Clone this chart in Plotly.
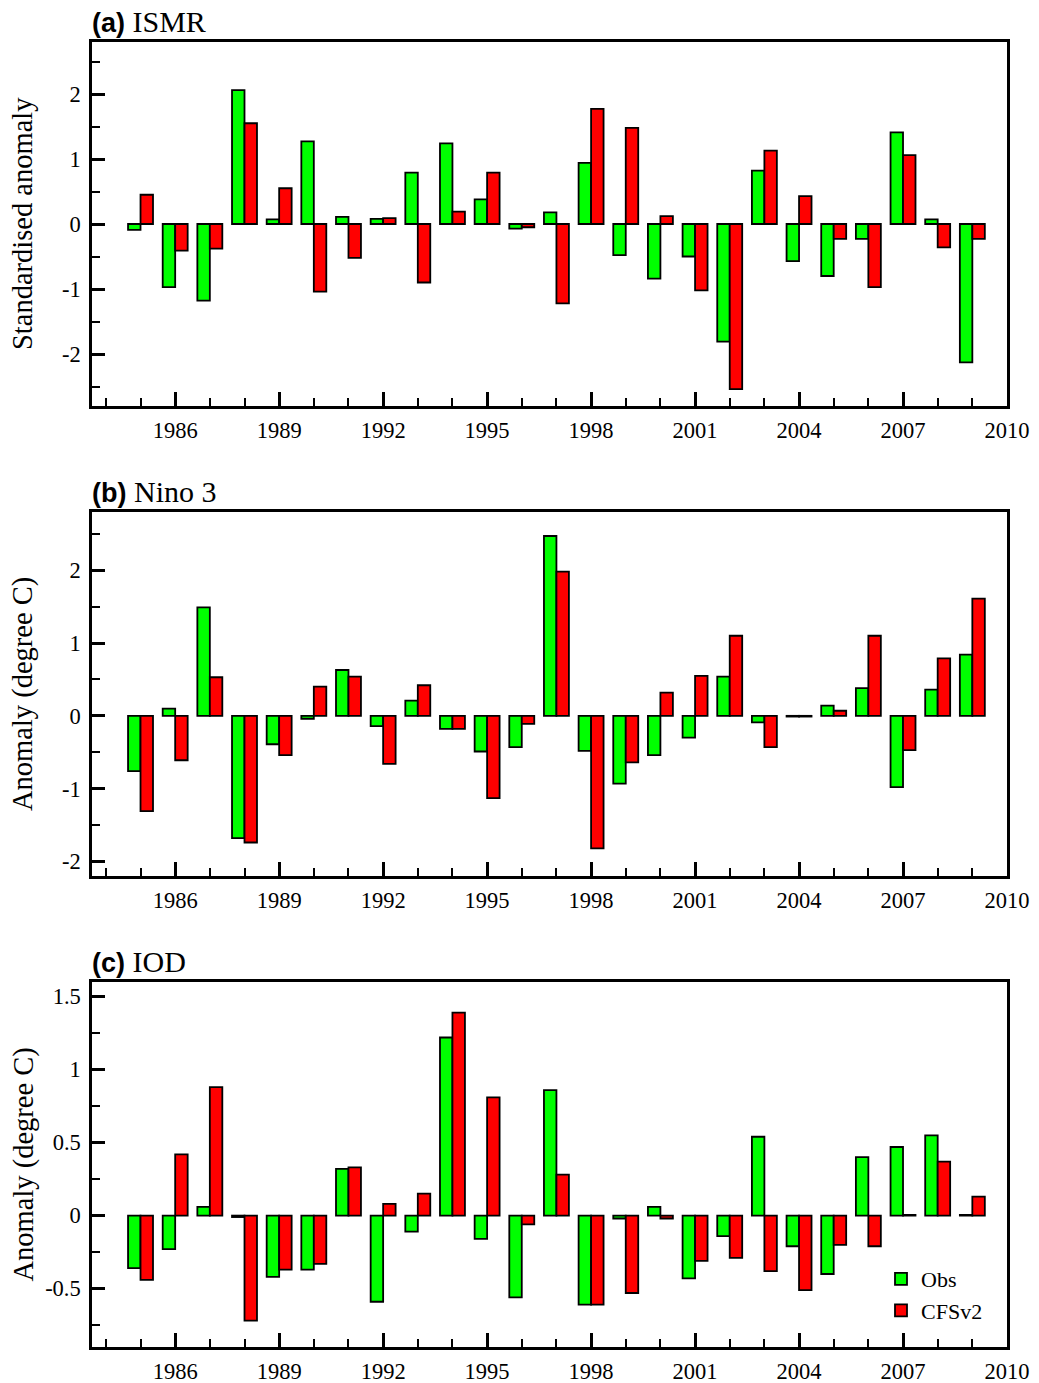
import numpy as np
import plotly.graph_objects as go

# ---------------- data ----------------
years = list(range(1985, 2010))

ismr_obs = [-0.09, -0.97, -1.18, 2.06, 0.07, 1.27, 0.11, 0.08, 0.79, 1.24, 0.38, -0.07, 0.18,
            0.94, -0.48, -0.84, -0.50, -1.81, 0.82, -0.57, -0.80, -0.23, 1.41, 0.07, -2.13]
ismr_cfs = [0.45, -0.41, -0.38, 1.55, 0.55, -1.04, -0.52, 0.09, -0.90, 0.19, 0.79, -0.05, -1.22,
            1.77, 1.48, 0.12, -1.02, -2.54, 1.13, 0.43, -0.23, -0.97, 1.06, -0.36, -0.23]

nino3_obs = [-0.76, 0.10, 1.49, -1.68, -0.39, -0.04, 0.63, -0.14, 0.21, -0.18, -0.49, -0.43, 2.47,
             -0.48, -0.93, -0.54, -0.30, 0.54, -0.09, -0.01, 0.14, 0.38, -0.98, 0.36, 0.84]
nino3_cfs = [-1.31, -0.61, 0.53, -1.74, -0.54, 0.40, 0.54, -0.66, 0.42, -0.18, -1.13, -0.11, 1.98,
             -1.82, -0.64, 0.32, 0.55, 1.10, -0.43, -0.01, 0.07, 1.10, -0.47, 0.79, 1.61]

iod_obs = [-0.36, -0.23, 0.06, -0.01, -0.42, -0.37, 0.32, -0.59, -0.11, 1.22, -0.16, -0.56, 0.86,
           -0.61, -0.02, 0.06, -0.43, -0.14, 0.54, -0.21, -0.40, 0.40, 0.47, 0.55, 0.005]
iod_cfs = [-0.44, 0.42, 0.88, -0.72, -0.37, -0.33, 0.33, 0.08, 0.15, 1.39, 0.81, -0.06, 0.28,
           -0.61, -0.53, -0.02, -0.31, -0.29, -0.38, -0.51, -0.20, -0.21, 0.005, 0.37, 0.13]

panel_titles = ["(a)", "(b)", "(c)"]
panel_names = ["ISMR", "Nino 3", "IOD"]
y_titles = ["Standardised anomaly", "Anomaly (degree C)", "Anomaly (degree C)"]
series_names = ["Obs", "CFSv2"]

x_tick_vals = list(range(1986, 2011, 3))
x_tick_text = [str(v) for v in x_tick_vals]

y_ticks = [
    ([-2, -1, 0, 1, 2], ["-2", "-1", "0", "1", "2"]),
    ([-2, -1, 0, 1, 2], ["-2", "-1", "0", "1", "2"]),
    ([-0.5, 0, 0.5, 1, 1.5], ["-0.5", "0", "0.5", "1", "1.5"]),
]
y_ranges = [[-2.8, 2.8], [-2.2, 2.8], [-0.9, 1.6]]
y_minor_step = [0.5, 0.5, 0.25]

# ---------------- layout geometry ----------------
W, H = 1039, 1383
frame_l, frame_r = 92, 1007
panel_px = [(42, 406), (512, 876), (982, 1347)]
ml, mr = frame_l, W - frame_r
mt, mb = panel_px[0][0], H - panel_px[2][1]
ph = H - mt - mb
pw = W - ml - mr
domains = [[(H - mb - b) / ph, (H - mb - t) / ph] for t, b in panel_px]

SERIF = "Liberation Serif, Times New Roman, serif"
SANS = "Liberation Sans, Arial, sans-serif"
GREEN = "#00FF00"
RED = "#FF0000"

fig = go.Figure()
data = [(ismr_obs, ismr_cfs), (nino3_obs, nino3_cfs), (iod_obs, iod_cfs)]
bw = 0.36
for i, (obs, cfs) in enumerate(data):
    xa = "x" if i == 0 else f"x{i+1}"
    ya = "y" if i == 0 else f"y{i+1}"
    fig.add_trace(go.Bar(x=years, y=obs, width=bw, offset=-bw, name=series_names[0],
                         marker=dict(color=GREEN, line=dict(color="black", width=1.8)),
                         xaxis=xa, yaxis=ya, showlegend=(i == 2)))
    fig.add_trace(go.Bar(x=years, y=cfs, width=bw, offset=0, name=series_names[1],
                         marker=dict(color=RED, line=dict(color="black", width=1.8)),
                         xaxis=xa, yaxis=ya, showlegend=(i == 2)))

leg_left_px = 921 - 40
leg_top_px = 1258

layout = dict(
    width=W, height=H,
    autosize=False,
    margin=dict(l=ml, r=mr, t=mt, b=mb, autoexpand=False),
    paper_bgcolor="white", plot_bgcolor="white",
    barmode="overlay",
    font=dict(family=SERIF, size=22, color="black"),
    legend=dict(x=(leg_left_px - ml) / pw, y=(H - mb - leg_top_px) / ph,
                xanchor="left", yanchor="top",
                font=dict(family=SERIF, size=22, color="black"),
                bgcolor="rgba(0,0,0,0)", borderwidth=0, tracegroupgap=0,
                itemwidth=30),
    showlegend=True,
)

annotations = []
for i in range(3):
    xk = "xaxis" if i == 0 else f"xaxis{i+1}"
    yk = "yaxis" if i == 0 else f"yaxis{i+1}"
    ya = "y" if i == 0 else f"y{i+1}"
    lo, hi = y_ranges[i]
    minor_vals = list(np.round(np.arange(np.ceil(lo / y_minor_step[i]) * y_minor_step[i], hi + 1e-9,
                                         y_minor_step[i]), 3))
    layout[xk] = dict(
        domain=[0, 1], anchor=ya, range=[1983.6, 2010], automargin=False,
        tickmode="array", tickvals=x_tick_vals, ticktext=x_tick_text,
        ticks="inside", ticklen=14, tickwidth=2.5, tickcolor="black",
        minor=dict(tickmode="array", tickvals=list(range(1984, 2011)),
                   ticks="inside", ticklen=8, tickwidth=2, tickcolor="black"),
        showline=True, linecolor="black", linewidth=2.5, mirror=True,
        showgrid=False, zeroline=False,
        tickfont=dict(family=SERIF, size=22.5, color="black"),
        ticklabelstandoff=2,
    )
    layout[yk] = dict(
        domain=domains[i], anchor="x" if i == 0 else f"x{i+1}", range=y_ranges[i], automargin=False,
        tickmode="array", tickvals=y_ticks[i][0], ticktext=y_ticks[i][1],
        ticks="inside", ticklen=13, tickwidth=2.5, tickcolor="black",
        minor=dict(tickmode="array", tickvals=minor_vals,
                   ticks="inside", ticklen=8, tickwidth=2, tickcolor="black"),
        showline=True, linecolor="black", linewidth=2.5, mirror=True,
        showgrid=False, zeroline=False,
        tickfont=dict(family=SERIF, size=22.5, color="black"),
        ticklabelstandoff=4,
    )
    top_paper = domains[i][1]
    annotations.append(dict(
        xref="paper", yref="paper", x=0.0, y=top_paper + 21 / ph, xanchor="left", yanchor="middle",
        xshift=-2,
        text=f"<span style='font-family:{SANS};font-weight:bold;font-size:27px'>{panel_titles[i]}</span> {panel_names[i]}",
        showarrow=False, font=dict(family=SERIF, size=30, color="black")))
    annotations.append(dict(
        xref="paper", yref="paper", x=(23 - ml) / pw, y=(domains[i][0] + domains[i][1]) / 2,
        xanchor="center", yanchor="middle", textangle=-90,
        text=y_titles[i], showarrow=False, font=dict(family=SERIF, size=28.5, color="black")))

layout["annotations"] = annotations
fig.update_layout(**layout)

fig.write_html("out.html", config={"displayModeBar": False},
               post_script="document.body.style.margin='0';document.body.style.overflow='hidden';")
